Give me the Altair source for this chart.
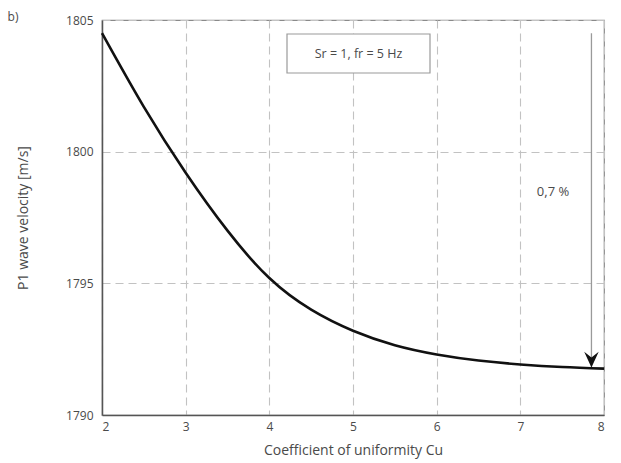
import altair as alt
import pandas as pd

# P1 wave velocity versus coefficient of uniformity (Sr = 1, fr = 5 Hz)
cu = [2.0, 2.5, 3.0, 3.5, 4.0, 4.5, 5.0, 5.5, 6.0, 6.5, 7.0, 7.5, 8.0]
velocity = [1804.5, 1801.7, 1799.2, 1797.0, 1795.2, 1794.0, 1793.2,
            1792.65, 1792.3, 1792.07, 1791.92, 1791.82, 1791.76]

x_ticks = [2, 3, 4, 5, 6, 7, 8]
y_ticks = [1790, 1795, 1800, 1805]

# vertical arrow marking the total decrease
arrow_cu = [7.85]
arrow_from = [1804.5]
arrow_to = [1791.8]

legend_text = "Sr = 1, fr = 5 Hz"
drop_text = "0,7 %"
panel_tag = "b)"

FONT = "Open Sans"
TEXT = "#4a4a4a"

curve_df = pd.DataFrame({"cu": cu, "v": velocity})
arrow_df = pd.DataFrame({"cu": arrow_cu, "top": arrow_from, "tip": arrow_to})

x_enc = alt.X(
    "cu:Q",
    scale=alt.Scale(domain=[2, 8], nice=False, zero=False),
    axis=alt.Axis(values=x_ticks, format="d", title="Coefficient of uniformity Cu",
                  labelPadding=6, titlePadding=11),
)
y_enc = alt.Y(
    "v:Q",
    scale=alt.Scale(domain=[1790, 1805], nice=False, zero=False),
    axis=alt.Axis(values=y_ticks, format="d", title="P1 wave velocity [m/s]",
                  labelPadding=9, titlePadding=35),
)

curve = alt.Chart(curve_df).mark_line(
    color="#111111", strokeWidth=2.6, interpolate="natural"
).encode(x=x_enc, y=y_enc)

arrow_line = alt.Chart(arrow_df).mark_rule(color="#9a9a9a", strokeWidth=1.3).encode(
    x="cu:Q", y="top:Q", y2="tip:Q"
)

arrow_head = alt.Chart(arrow_df).mark_point(
    shape="M-1,-2.2L0,0L1,-2.2L0,-1.4Z", filled=True, color="#111111",
    opacity=1, size=210, strokeWidth=0
).encode(x="cu:Q", y="tip:Q")

legend_box = alt.Chart(pd.DataFrame({"t": [legend_text]})).mark_rect(
    fill="white", stroke="#9a9a9a", strokeWidth=1.2
).encode(x=alt.value(185), x2=alt.value(328), y=alt.value(14), y2=alt.value(53))

legend_label = alt.Chart(pd.DataFrame({"t": [legend_text]})).mark_text(
    font=FONT, fontSize=12.5, color=TEXT, align="center", baseline="middle"
).encode(text="t:N", x=alt.value(256.5), y=alt.value(33.5))

drop_label = alt.Chart(pd.DataFrame({"t": [drop_text]})).mark_text(
    font=FONT, fontSize=13, color=TEXT, align="center", baseline="middle"
).encode(text="t:N", x=alt.value(451), y=alt.value(172))

tag_label = alt.Chart(pd.DataFrame({"t": [panel_tag]})).mark_text(
    font=FONT, fontSize=12, color=TEXT, align="center", baseline="middle"
).encode(text="t:N", x=alt.value(-89), y=alt.value(-3))

chart = (
    alt.layer(legend_box, legend_label, drop_label, tag_label, arrow_line, curve, arrow_head)
    .properties(
        width=502, height=395,
        padding={"left": 102, "top": 20, "right": 17, "bottom": 48},
        autosize=alt.AutoSizeParams(type="none"),
        background="white",
    )
    .configure_view(stroke="#8a8a8a", strokeWidth=1.2)
    .configure_axis(
        grid=True, gridColor="#c2c2c2", gridDash=[8, 5], gridWidth=1.1,
        domainColor="#555555", domainWidth=1.5, ticks=False,
        labelFont=FONT, titleFont=FONT, labelFontSize=12, titleFontSize=14,
        labelColor=TEXT, titleColor=TEXT, titleFontWeight="normal",
    )
)

chart.save("out.html", embed_options={"renderer": "svg", "actions": False})
